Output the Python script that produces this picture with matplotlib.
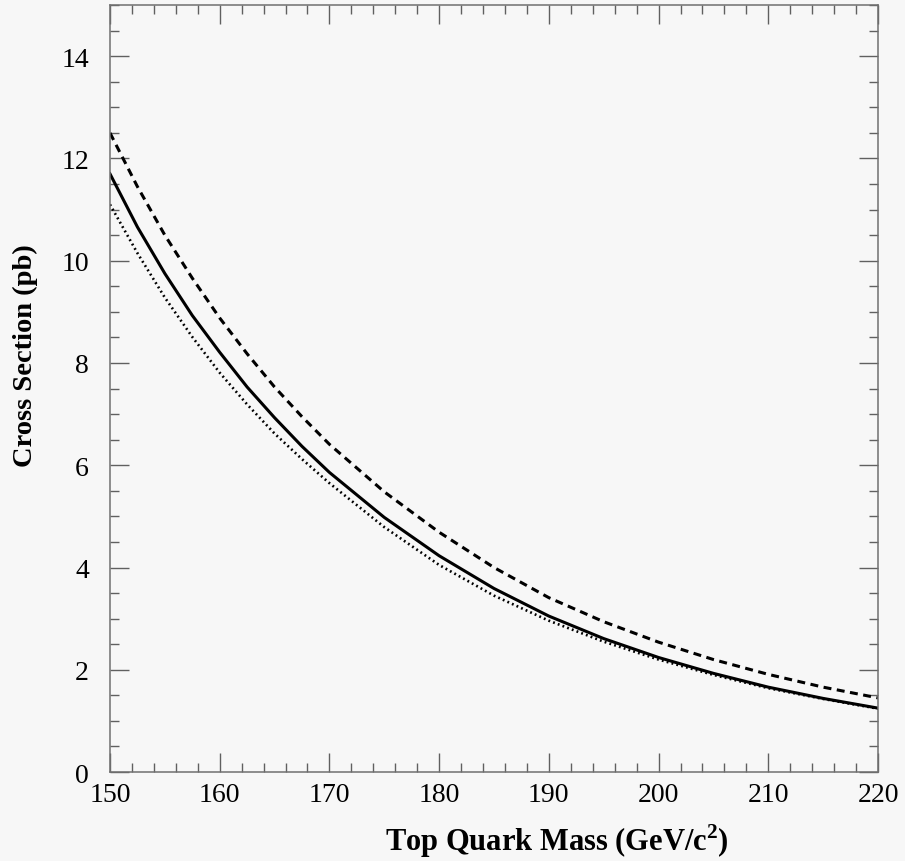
import matplotlib
matplotlib.use('Agg')

import numpy as np
import matplotlib.pyplot as plt
from matplotlib.ticker import MultipleLocator

# top mass (GeV/c^2) and cross sections (pb)
mass = [150, 152.5, 155, 157.5, 160, 162.5, 165, 167.5, 170, 175, 180, 185, 190, 195, 200, 205, 210, 215, 220]
xs_central = [11.7, 10.66, 9.75, 8.93, 8.21, 7.53, 6.93, 6.37, 5.86, 4.98, 4.23, 3.59, 3.05, 2.61, 2.24, 1.93, 1.66, 1.44, 1.25]
xs_upper = [12.5, 11.45, 10.5, 9.66, 8.88, 8.18, 7.53, 6.95, 6.41, 5.48, 4.69, 4.00, 3.41, 2.94, 2.54, 2.20, 1.91, 1.66, 1.45]
xs_lower = [11.1, 10.15, 9.28, 8.51, 7.81, 7.19, 6.62, 6.12, 5.65, 4.79, 4.05, 3.45, 2.96, 2.55, 2.20, 1.90, 1.64, 1.43, 1.24]

xticks = [150, 160, 170, 180, 190, 200, 210, 220]
yticks = [0, 2, 4, 6, 8, 10, 12, 14]

plt.rcParams['font.family'] = ['Liberation Serif', 'DejaVu Serif']
plt.rcParams['mathtext.fontset'] = 'custom'
plt.rcParams['mathtext.rm'] = 'Liberation Serif'
plt.rcParams['mathtext.bf'] = 'Liberation Serif:bold'

bg = '#f7f7f7'
fig = plt.figure(figsize=(9.05, 8.62), dpi=100, facecolor=bg)
ax = fig.add_axes([0.1215, 0.1032, 0.8487, 0.8898], facecolor=bg)

ax.plot(mass, xs_upper, color='black', lw=2.2, linestyle=(0, (2.6, 1.8)))
ax.plot(mass, xs_central, color='black', lw=2.2, linestyle='-')
ax.plot(mass, xs_lower, color='black', lw=1.9, linestyle=(0, (0.7, 1.2)))

ax.set_xlim(150, 220)
ax.set_ylim(0, 15)
ax.set_xticks(xticks)
ax.set_yticks(yticks)
ax.xaxis.set_minor_locator(MultipleLocator(2))
ax.yaxis.set_minor_locator(MultipleLocator(0.5))

for s in ax.spines.values():
    s.set_color('#707070')
    s.set_linewidth(1.1)

ax.tick_params(which='both', direction='in', top=True, right=True, color='#606060', width=1.0)
ax.tick_params(which='major', length=13.5, labelsize=20)
ax.tick_params(which='minor', length=6.5)
ax.tick_params(axis='x', which='major', pad=7)
ax.tick_params(axis='y', which='major', pad=15)

ax.set_xlabel(r'Top Quark Mass (GeV/c$^{\mathbf{2}}$)', fontsize=22, fontweight='bold')
ax.set_ylabel('Cross Section (pb)', fontsize=20.5, fontweight='bold')
ax.xaxis.set_label_coords(0.582, -0.065)
ax.yaxis.set_label_coords(-0.094, 0.544)

fig.savefig('out.png', dpi=100, facecolor=bg)
